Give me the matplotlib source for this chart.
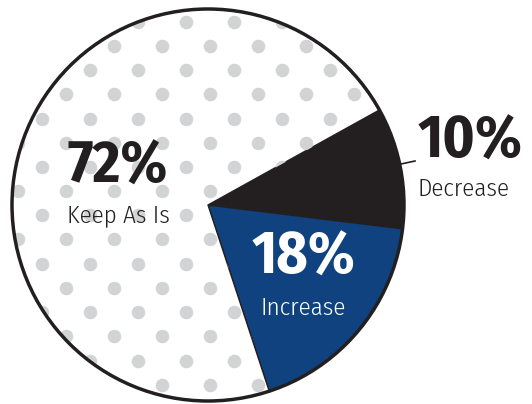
import matplotlib
matplotlib.use('Agg')
import matplotlib.pyplot as plt
import numpy as np

# data
labels = ['Decrease', 'Increase', 'Keep As Is']
shares = [10, 18, 72]
colors = ['#231f20', '#10427f', 'white']

W, H = 532, 404
fig = plt.figure(figsize=(W / 100, H / 100), dpi=100)
ax = fig.add_axes([0, 0, 1, 1])

cx, cy, r = 208, H - 205, 196
wedges, _ = ax.pie(shares, colors=colors, startangle=29, counterclock=False,
                   center=(cx, cy), radius=r,
                   wedgeprops=dict(edgecolor='#231f20', linewidth=1.0))

# dotted texture on the big slice
rows = []
for k in range(-1, 19):
    yy = 21.7 + 24.2 * k
    x0 = 186 if k % 2 == 0 else 162
    for xx in np.arange(x0 - 48 * 4, 420, 48):
        rows.append((xx, H - yy))
pts = np.array(rows)
dots = ax.scatter(pts[:, 0], pts[:, 1], s=95, color='#d1d3d4', linewidths=0, zorder=2)
dots.set_clip_path(wedges[2])

outline = plt.Circle((cx, cy), r, fill=False, edgecolor='#231f20', linewidth=2.5, zorder=3)
ax.add_patch(outline)

fam = ['Fira Sans Condensed', 'DejaVu Sans']
big = dict(fontsize=43, fontweight='bold', family=fam, zorder=4)
small = dict(fontsize=18, fontweight=300, family=fam, zorder=4)

ax.text(118, H - 167, f'{shares[2]}%', ha='center', va='center', color='#231f20', **big)
ax.text(118, H - 215, labels[2], ha='center', va='center', color='#231f20', **small)

ax.text(303, H - 258, f'{shares[1]}%', ha='center', va='center', color='white', **big)
ax.text(303, H - 308, labels[1], ha='center', va='center', color='white', **small)

ax.text(418, H - 142, f'{shares[0]}%', ha='left', va='center', color='#231f20', **big)
ax.text(417, H - 189, labels[0], ha='left', va='center', color='#231f20', **small)
ax.plot([401, 415], [H - 164, H - 161], color='#231f20', lw=1.2, zorder=4)

ax.set_xlim(0, W)
ax.set_ylim(0, H)
ax.set_aspect('auto')
ax.axis('off')

fig.savefig('out.png', dpi=100, facecolor='white')
